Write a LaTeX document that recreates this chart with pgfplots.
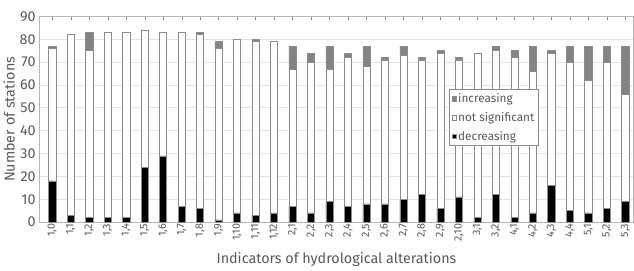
\documentclass[border=0pt]{standalone}
\usepackage{fontspec}
\setmainfont{Fira Sans}
\usepackage{pgfplots}
\usepackage{pgfplotstable}
\pgfplotsset{compat=1.18}
\definecolor{txt}{HTML}{5A5A5A}
\definecolor{incc}{HTML}{838383}
\definecolor{edge}{HTML}{8C8C8C}
\definecolor{gridc}{HTML}{E4E4E4}
\pgfplotstableread{
x dec ns inc
0 18 58 1
1 3 79 0
2 2 73 8
3 2 81 0
4 2 81 0
5 24 60 0
6 29 54 0
7 7 76 0
8 6 76 1
9 1 75 3
10 4 76 0
11 3 76 1
12 4 75 0
13 7 60 10
14 4 66 4
15 9 58 10
16 7 65 2
17 8 60 9
18 8 63 1
19 10 63 4
20 12 59 1
21 6 68 1
22 11 60 1
23 2 72 0
24 12 63 2
25 2 70 3
26 4 62 11
27 16 58 1
28 5 65 7
29 4 58 15
30 6 64 7
31 9 47 21
}\data
\begin{document}
\begin{tikzpicture}
\begin{axis}[
  scale only axis, width=578bp, height=200bp,
  ybar stacked, bar width=0.39,
  xmin=-0.7, xmax=31.45, ymin=0, ymax=90,
  ytick={0,10,...,90},
  xtick=data,
  xticklabels={{1,0},{1,1},{1,2},{1,3},{1,4},{1,5},{1,6},{1,7},{1,8},{1,9},{1,10},{1,11},{1,12},{2,1},{2,2},{2,3},{2,4},{2,5},{2,6},{2,7},{2,8},{2,9},{2,10},{3,1},{3,2},{4,1},{4,2},{4,3},{4,4},{5,1},{5,2},{5,3}},
  /pgf/number format/assume math mode=true,
  x tick label style={rotate=90, anchor=east, font=\fontsize{10.5}{11}\selectfont, text=txt, inner sep=1.5pt},
  y tick label style={font=\fontsize{14}{15}\selectfont, text=txt},
  ymajorgrids, grid style={gridc, line width=0.8pt},
  axis line style={gridc!80!black, line width=0.6pt},
  major tick length=3bp,
  xtick style={gridc!60!black},
  ytick style={draw=none},
  xlabel={Indicators of hydrological alterations},
  ylabel={Number of stations},
  label style={font=\fontsize{14}{15}\selectfont, text=txt},
  xlabel style={yshift=-6bp},
  ylabel style={yshift=-2bp},
  legend style={at={(0.69,0.645)}, anchor=north west, draw=edge, font=\fontsize{11.5}{12}\selectfont, text=txt, row sep=5bp, inner sep=2pt, nodes={inner sep=1.5pt}},
  legend cell align=left,
  reverse legend,
  legend image code/.code={\draw[#1] (0bp,-2.2bp) rectangle (4.4bp,2.2bp);},
]
\addplot[fill=black, draw=edge, line width=0.5pt] table[x=x, y=dec] {\data};
\addlegendentry{decreasing}
\addplot[fill=white, draw=edge, line width=0.5pt] table[x=x, y=ns] {\data};
\addlegendentry{not significant}
\addplot[fill=incc, draw=edge, line width=0.5pt] table[x=x, y=inc] {\data};
\addlegendentry{increasing}
\end{axis}
\path ([yshift=16bp]current axis.north);
\end{tikzpicture}
\end{document}
